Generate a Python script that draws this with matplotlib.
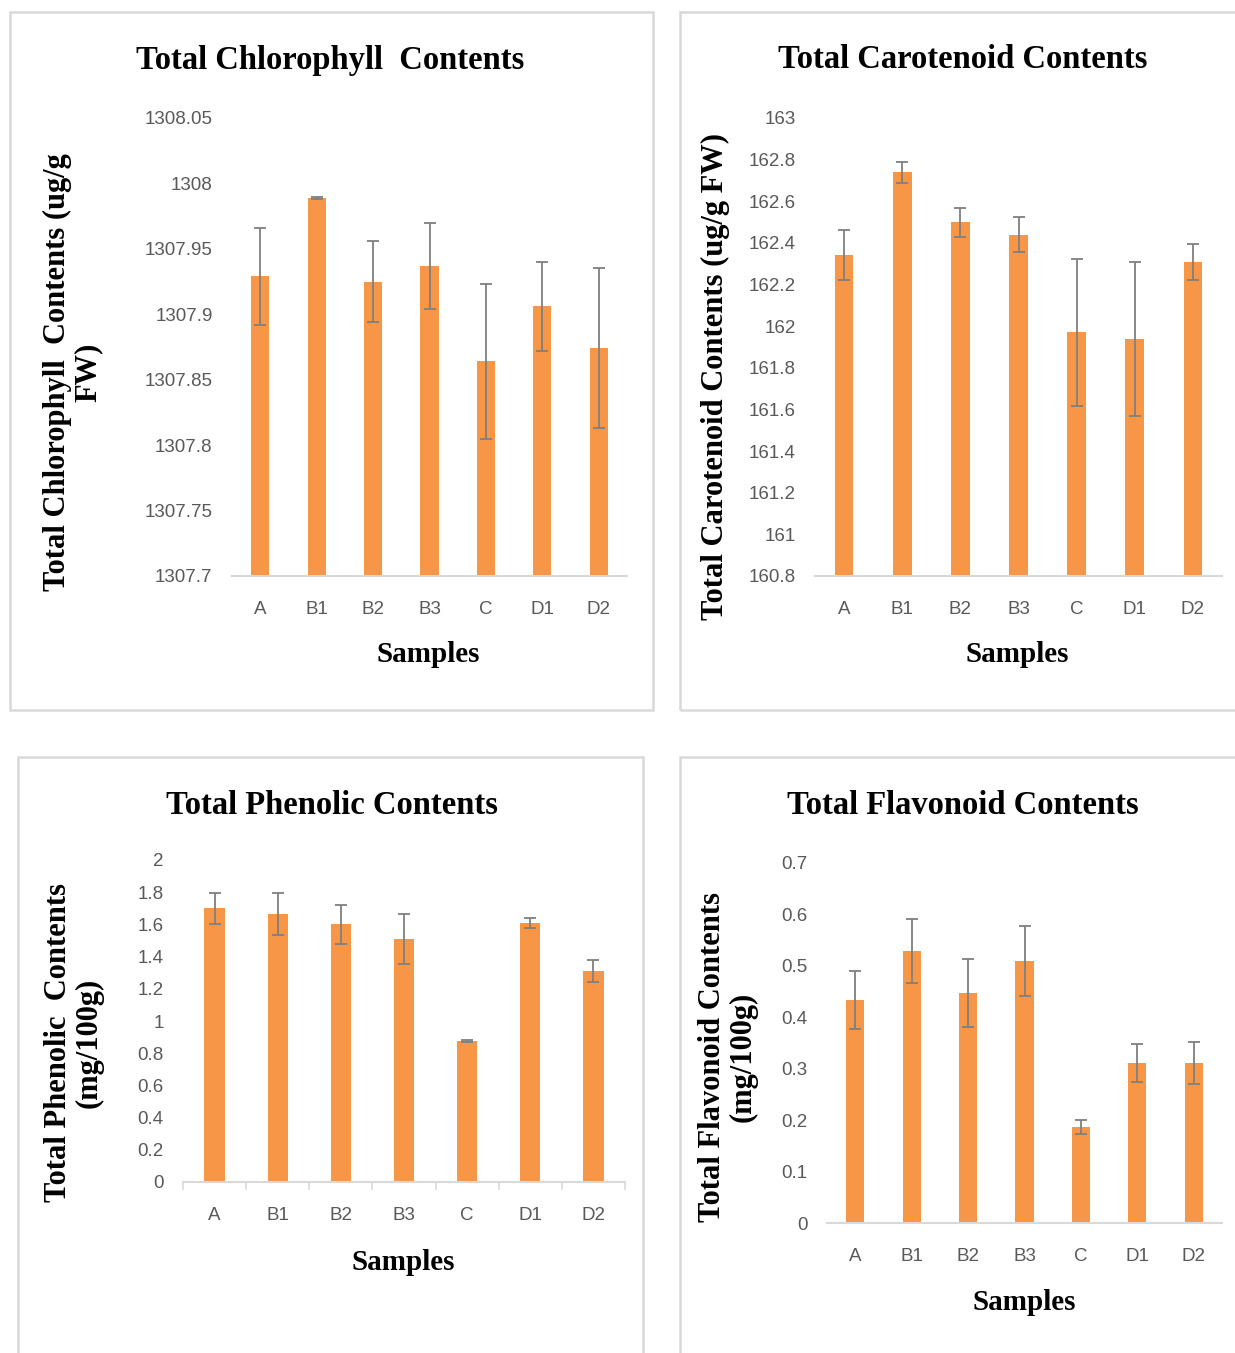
import matplotlib
matplotlib.use("Agg")
import matplotlib.pyplot as plt
from matplotlib.patches import Rectangle

# Data
samples = ["A", "B1", "B2", "B3", "C", "D1", "D2"]

chlorophyll = [1307.929, 1307.989, 1307.925, 1307.937, 1307.864, 1307.906, 1307.874]
chlorophyll_err = [0.037, 0.001, 0.031, 0.033, 0.059, 0.034, 0.061]

carotenoid = [162.34, 162.74, 162.50, 162.44, 161.97, 161.94, 162.31]
carotenoid_err = [0.12, 0.05, 0.07, 0.085, 0.355, 0.37, 0.086]

phenolic = [1.70, 1.665, 1.60, 1.51, 0.876, 1.61, 1.31]
phenolic_err = [0.095, 0.13, 0.12, 0.155, 0.005, 0.03, 0.07]

flavonoid = [0.434, 0.529, 0.447, 0.51, 0.187, 0.311, 0.311]
flavonoid_err = [0.056, 0.062, 0.066, 0.068, 0.013, 0.037, 0.04]

chl_ticks = [1307.7, 1307.75, 1307.8, 1307.85, 1307.9, 1307.95, 1308.0, 1308.05]
car_ticks = [160.8, 161.0, 161.2, 161.4, 161.6, 161.8, 162.0, 162.2, 162.4, 162.6, 162.8, 163.0]
phe_ticks = [0, 0.2, 0.4, 0.6, 0.8, 1.0, 1.2, 1.4, 1.6, 1.8, 2.0]
fla_ticks = [0, 0.1, 0.2, 0.3, 0.4, 0.5, 0.6, 0.7]

W, H = 1235, 1353
BAR = "#F79646"
ERR = "#7F7F7F"
TICK = "#595959"
GRID = "#D9D9D9"
serif = "Liberation Serif"
sans = ["Liberation Sans Narrow", "Liberation Sans", "DejaVu Sans"]

fig = plt.figure(figsize=(W / 100, H / 100), dpi=100)


def fx(x):
    return x / W


def fy(y):
    return 1 - y / H


def box(x0, y0, x1, y1):
    fig.patches.append(Rectangle((fx(x0), fy(y1)), fx(x1) - fx(x0), fy(y0) - fy(y1),
                                 transform=fig.transFigure, fill=False,
                                 edgecolor=GRID, linewidth=1.8))


def panel(rect, vals, errs, ticks, between_ticks=False):
    x0, y0, x1, y1 = rect
    ax = fig.add_axes([fx(x0), fy(y1), fx(x1) - fx(x0), fy(y0) - fy(y1)])
    pos = list(range(len(samples)))
    ax.bar(pos, vals, width=0.32, color=BAR, zorder=2)
    ax.errorbar(pos, vals, yerr=errs, fmt="none", ecolor=ERR, elinewidth=1.3,
                capsize=4, capthick=1.3, zorder=3)
    ax.set_xlim(-0.5, len(samples) - 0.5)
    ax.set_ylim(ticks[0], ticks[-1])
    ax.set_yticks(ticks)
    ax.set_yticklabels([f"{t:g}" for t in ticks])
    ax.set_xticks(pos)
    ax.set_xticklabels(samples)
    for s in ["top", "right", "left"]:
        ax.spines[s].set_visible(False)
    ax.spines["bottom"].set_color(GRID)
    ax.spines["bottom"].set_linewidth(1.5)
    ax.tick_params(axis="y", length=0, pad=14, labelcolor=TICK, labelsize=13.5)
    ax.tick_params(axis="x", length=0, pad=18, labelcolor=TICK, labelsize=13.5)
    for lab in ax.get_xticklabels() + ax.get_yticklabels():
        lab.set_family(sans)
    if between_ticks:
        ax.set_xticks([p - 0.5 for p in pos] + [len(samples) - 0.5], minor=True)
        ax.tick_params(axis="x", which="minor", length=6, color=GRID, width=1.2)
    ax.set_facecolor("none")
    return ax


# panel frames
box(10, 12, 653, 710)
box(680, 12, 1260, 710)
box(18, 757, 643, 1380)
box(680, 757, 1260, 1380)

panel((232, 118, 627, 576), chlorophyll, chlorophyll_err, chl_ticks)
panel((815, 118, 1222, 576), carotenoid, carotenoid_err, car_ticks)
panel((183, 860, 625, 1182), phenolic, phenolic_err, phe_ticks, between_ticks=True)
panel((827, 863, 1222, 1223), flavonoid, flavonoid_err, fla_ticks)

# titles
title_kw = dict(family=serif, weight="bold", fontsize=23.5, ha="center", va="center")
fig.text(fx(330), fy(60), "Total Chlorophyll  Contents", **title_kw)
fig.text(fx(963), fy(60), "Total Carotenoid Contents", **title_kw)
fig.text(fx(332), fy(805), "Total Phenolic Contents", **title_kw)
fig.text(fx(963), fy(805), "Total Flavonoid Contents", **title_kw)

# axis labels
ylab_kw = dict(family=serif, weight="bold", fontsize=22, rotation=90,
               ha="center", va="center", multialignment="center", linespacing=1.05)
fig.text(fx(73), fy(372), "Total Chlorophyll  Contents (ug/g\nFW)", **ylab_kw)
fig.text(fx(715), fy(377), "Total Carotenoid Contents (ug/g FW)", **ylab_kw)
fig.text(fx(74), fy(1043), "Total Phenolic  Contents\n(mg/100g)", **ylab_kw)
fig.text(fx(728), fy(1057), "Total Flavonoid Contents\n(mg/100g)", **ylab_kw)

xlab_kw = dict(family=serif, weight="bold", fontsize=21, ha="center", va="center")
fig.text(fx(428), fy(655), "Samples", **xlab_kw)
fig.text(fx(1017), fy(655), "Samples", **xlab_kw)
fig.text(fx(403), fy(1262), "Samples", **xlab_kw)
fig.text(fx(1024), fy(1303), "Samples", **xlab_kw)

fig.savefig("out.png", dpi=100)
